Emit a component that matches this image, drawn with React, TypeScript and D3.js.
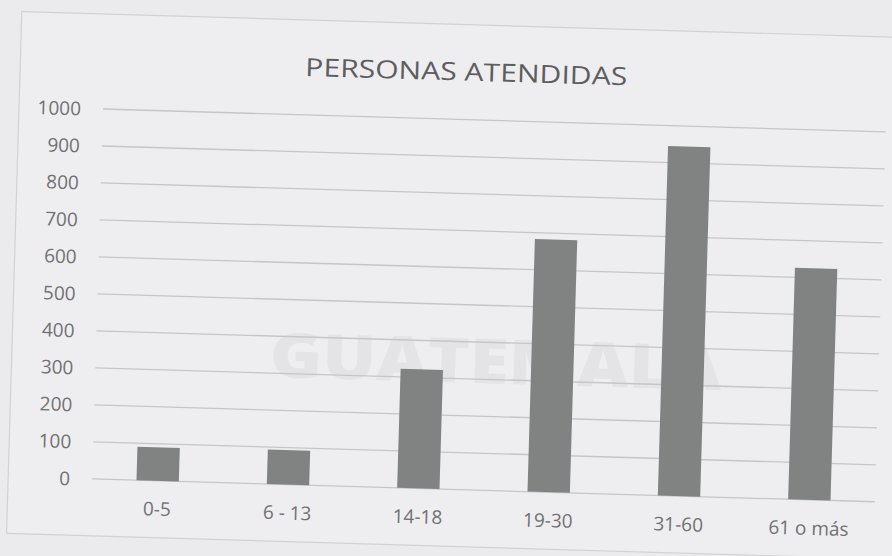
import React from 'react';
import * as d3 from 'd3';

const categories: string[] = ['0-5', '6 - 13', '14-18', '19-30', '31-60', '61 o más'];
const values: number[] = [90, 93, 322, 683, 945, 626];
const yTicks: number[] = [0, 100, 200, 300, 400, 500, 600, 700, 800, 900, 1000];
const title = 'PERSONAS ATENDIDAS';
const watermark = 'GUATEMALA';

export default function App() {
  const W = 892;
  const H = 556;
  const x0 = 103;
  const x1 = 886;
  const yTop = 109;
  const yBot = 479;
  const angle = (Math.atan(0.0293) * 180) / Math.PI;

  const x = d3.scaleBand<string>().domain(categories).range([x0, x1]).paddingInner(0.675).paddingOuter(0.34);
  const y = d3.scaleLinear().domain([0, 1000]).range([yBot, yTop]);

  const font = "'Open Sans', 'Noto Sans', sans-serif";
  const textColor = '#717173';

  return (
    <svg
      width={W}
      height={H}
      viewBox={`0 0 ${W} ${H}`}
      style={{ position: 'absolute', left: 0, top: 0, display: 'block' }}
    >
      <rect x={0} y={0} width={W} height={H} fill="#ebebee" />
      <g transform={`rotate(${angle}, ${x0}, ${yTop})`}>
        <rect x={19} y={14} width={W + 40} height={522} fill="#eeeef1" stroke="#d2d2d5" strokeWidth={1.2} />
        <text
          x={503}
          y={372}
          textAnchor="middle"
          fontFamily={font}
          fontWeight={800}
          fontSize={62}
          fill="#e4e4e7"
          textLength={452}
          lengthAdjust="spacingAndGlyphs"
        >
          {watermark}
        </text>
        <text
          x={465}
          y={70}
          textAnchor="middle"
          fontFamily={font}
          fontSize={25}
          fill="#5e5e60"
          textLength={322}
          lengthAdjust="spacingAndGlyphs"
        >
          {title}
        </text>
        {yTicks.map((t) => (
          <g key={t}>
            <line x1={x0} x2={x1} y1={y(t)} y2={y(t)} stroke="#c6c6c8" strokeWidth={1.3} />
            <text
              x={81}
              y={y(t)}
              textAnchor="end"
              dominantBaseline="central"
              fontFamily={font}
              fontSize={19}
              fill={textColor}
            >
              {t}
            </text>
          </g>
        ))}
        {categories.map((c, i) => (
          <rect
            key={c}
            x={x(c)}
            y={y(values[i])}
            width={x.bandwidth()}
            height={y(0) - y(values[i])}
            fill="#808382"
          />
        ))}
        {categories.map((c) => (
          <text
            key={c}
            x={(x(c) as number) + x.bandwidth() / 2}
            y={514}
            textAnchor="middle"
            fontFamily={font}
            fontSize={19}
            fill={textColor}
          >
            {c}
          </text>
        ))}
      </g>
    </svg>
  );
}
